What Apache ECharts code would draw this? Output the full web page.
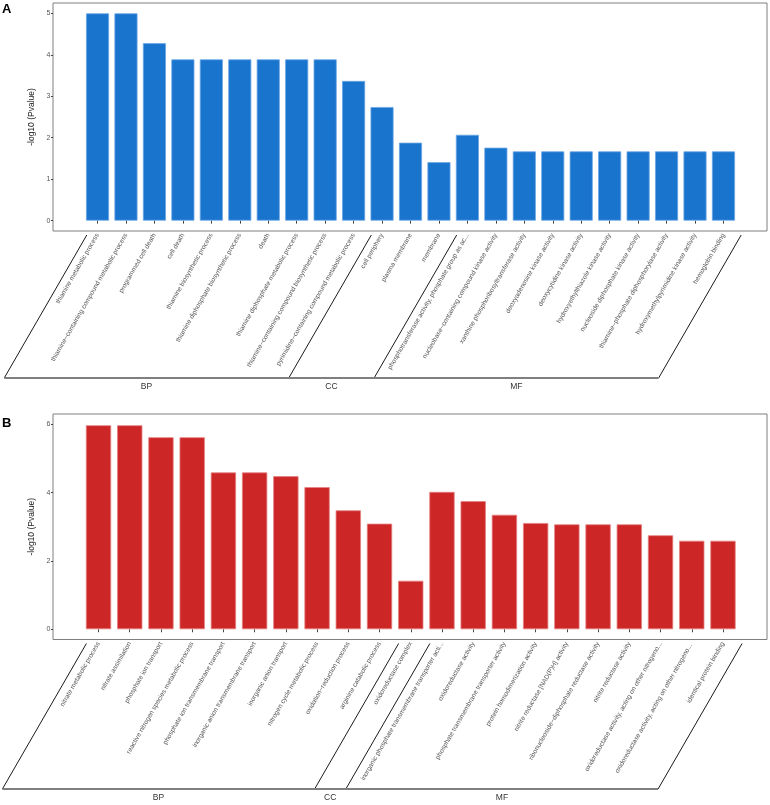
<!DOCTYPE html>
<html>
<head>
<meta charset="utf-8">
<script src="https://cdn.jsdelivr.net/npm/echarts@6/dist/echarts.min.js"></script>
<style>html,body{margin:0;padding:0;background:#fff}#c{width:770px;height:805px}</style>
</head>
<body>
<div id="c"></div>
<script>
// ---------- data ----------
const catsA = [
  'thiamine metabolic process',
  'thiamine\u2212containing compound metabolic process',
  'programmed cell death',
  'cell death',
  'thiamine biosynthetic process',
  'thiamine diphosphate biosynthetic process',
  'death',
  'thiamine diphosphate metabolic process',
  'thiamine\u2212containing compound biosynthetic process',
  'pyrimidine\u2212containing compound metabolic process',
  'cell periphery',
  'plasma membrane',
  'membrane',
  'phosphotransferase activity, phosphate group as ac...',
  'nucleobase\u2212containing compound kinase activity',
  'xanthine phosphoribosyltransferase activity',
  'deoxyadenosine kinase activity',
  'deoxycytidine kinase activity',
  'hydroxyethylthiazole kinase activity',
  'nucleoside diphosphate kinase activity',
  'thiamine\u2212phosphate diphosphorylase activity',
  'hydroxymethylpyrimidine kinase activity',
  'hemoglobin binding'
];
const valsA = [5.0, 5.0, 4.28, 3.89, 3.89, 3.89, 3.89, 3.89, 3.89, 3.37, 2.74, 1.88, 1.41, 2.07, 1.76, 1.67, 1.67, 1.67, 1.67, 1.67, 1.67, 1.67, 1.67];
const groupNamesA = ['BP', 'CC', 'MF'];
const groupSizesA = [10, 3, 10];
const yTicksA = [0, 1, 2, 3, 4, 5];

const catsB = [
  'nitrate metabolic process',
  'nitrate assimilation',
  'phosphate ion transport',
  'reactive nitrogen species metabolic process',
  'phosphate ion transmembrane transport',
  'inorganic anion transmembrane transport',
  'inorganic anion transport',
  'nitrogen cycle metabolic process',
  'oxidation\u2212reduction process',
  'arginine catabolic process',
  'oxidoreductase complex',
  'inorganic phosphate transmembrane transporter acti...',
  'oxidoreductase activity',
  'phosphate transmembrane transporter activity',
  'protein homodimerization activity',
  'nitrite reductase [NAD(P)H] activity',
  'ribonucleoside\u2212diphosphate reductase activity',
  'nitrite reductase activity',
  'oxidoreductase activity, acting on other nitrogeno...',
  'oxidoreductase activity, acting on other nitrogeno... ',
  'identical protein binding'
];
const valsB = [5.97, 5.97, 5.62, 5.62, 4.59, 4.59, 4.48, 4.16, 3.48, 3.09, 1.42, 4.02, 3.75, 3.35, 3.11, 3.07, 3.07, 3.07, 2.75, 2.59, 2.59];
const groupNamesB = ['BP', 'CC', 'MF'];
const groupSizesB = [10, 1, 10];
const yTicksB = [0, 2, 4, 6];

// ---------- layout ----------
const FONT = '"Liberation Sans", Arial, sans-serif';
const panels = [
  {cats: catsA, vals: valsA, ticks: yTicksA, names: groupNamesA, sizes: groupSizesA,
   color: '#1874CD', border: '#6aa6e4',
   frame: {left: 53, top: 3, width: 714, height: 228},
   data: {left: 83.3, width: 654.4},
   ymin: -0.25, ymax: 5.25, bracketY: 378, letter: 'A', letterTop: 3},
  {cats: catsB, vals: valsB, ticks: yTicksB, names: groupNamesB, sizes: groupSizesB,
   color: '#CD2626', border: '#e58080',
   frame: {left: 53, top: 414, width: 714, height: 225.5},
   data: {left: 82.9, width: 655.7},
   ymin: -0.3, ymax: 6.3, bracketY: 789, letter: 'B', letterTop: 417}
];

const chart = echarts.init(document.getElementById('c'), null, {renderer: 'canvas'});
const grid = [], xAxis = [], yAxis = [], series = [];
panels.forEach((p, k) => {
  grid.push({left: p.frame.left, top: p.frame.top, width: p.frame.width, height: p.frame.height,
             show: true, borderColor: '#7f7f7f', borderWidth: 1, backgroundColor: 'transparent'});
  grid.push({left: p.data.left, top: p.frame.top, width: p.data.width, height: p.frame.height});
  xAxis.push({gridIndex: 2 * k, type: 'value', show: false, min: 0, max: 1});
  xAxis.push({
    gridIndex: 2 * k + 1, type: 'category', data: p.cats, boundaryGap: true,
    axisLine: {show: false},
    axisTick: {show: true, alignWithLabel: true, interval: 0, length: 3, lineStyle: {color: '#444', width: 1}},
    axisLabel: {interval: 0, rotate: 60, fontSize: 6.6, margin: 3, color: '#555', fontFamily: FONT},
    splitLine: {show: false}
  });
  yAxis.push({
    gridIndex: 2 * k, type: 'value', min: p.ymin, max: p.ymax,
    axisLine: {show: false},
    axisTick: {show: true, length: 2, customValues: p.ticks, lineStyle: {color: '#444'}},
    axisLabel: {customValues: p.ticks, fontSize: 7, margin: 2.5, color: '#555', fontFamily: FONT},
    splitLine: {show: false},
    name: '-log10 (Pvalue)', nameLocation: 'middle', nameGap: 9,
    nameTextStyle: {fontSize: 8.5, color: '#222', fontFamily: FONT}
  });
  yAxis.push({gridIndex: 2 * k + 1, type: 'value', min: p.ymin, max: p.ymax, show: false});
  series.push({
    type: 'bar', xAxisIndex: 2 * k + 1, yAxisIndex: 2 * k + 1, data: p.vals,
    barWidth: '81%', silent: true, animation: false,
    itemStyle: {color: p.color, borderColor: p.border, borderWidth: 0.8}
  });
});

chart.setOption({animation: false, grid, xAxis, yAxis, series});

// ---------- group brackets ----------
const graphics = [];
const tan60 = Math.tan(Math.PI / 3);
panels.forEach((p, k) => {
  const xi = 2 * k + 1;
  const centers = p.cats.map((c, i) => chart.convertToPixel({xAxisIndex: xi}, i));
  const step = centers[1] - centers[0];
  const bounds = [centers[0] - step / 2];
  let idx = 0;
  p.sizes.forEach(s => { idx += s; bounds.push(centers[idx - 1] + step / 2); });
  const yTop = p.frame.top + p.frame.height + 4;
  const dy = p.bracketY - yTop;
  const dx = dy / tan60;
  const off = 3.5;
  bounds.forEach(b => {
    graphics.push({type: 'line', silent: true,
      shape: {x1: b + off, y1: yTop, x2: b + off - dx, y2: p.bracketY},
      style: {stroke: '#1a1a1a', lineWidth: 1}});
  });
  graphics.push({type: 'line', silent: true,
    shape: {x1: bounds[0] + off - dx, y1: p.bracketY, x2: bounds[bounds.length - 1] + off - dx, y2: p.bracketY},
    style: {stroke: '#7f7f7f', lineWidth: 2}});
  p.names.forEach((n, i) => {
    const cx = (bounds[i] + bounds[i + 1]) / 2 + off - dx;
    graphics.push({type: 'text', silent: true, x: cx, y: p.bracketY + 9,
      style: {text: n, fontSize: 8.5, fill: '#333', fontFamily: FONT, align: 'center', verticalAlign: 'middle'}});
  });
  graphics.push({type: 'text', silent: true, x: 2, y: p.letterTop,
    style: {text: p.letter, fontSize: 13, fontWeight: 'bold', fill: '#000', fontFamily: FONT, align: 'left', verticalAlign: 'top'}});
});
chart.setOption({graphic: graphics});
</script>
</body>
</html>
